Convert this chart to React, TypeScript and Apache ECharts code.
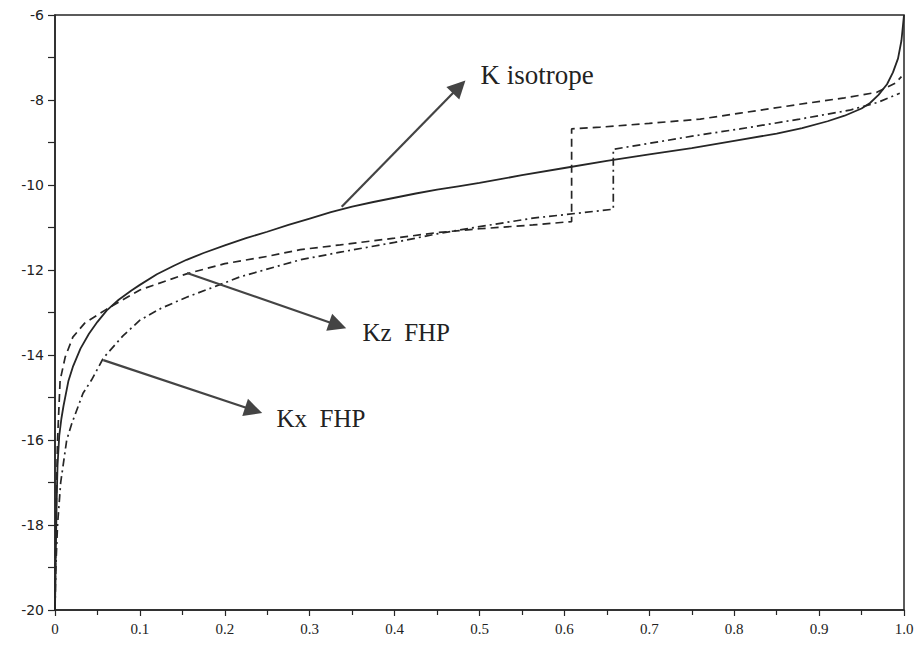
import React, { useEffect, useRef } from "react";
import * as echarts from "echarts";

// K isotrope (solid)
const isoX = [0, 0.001, 0.002, 0.003, 0.005, 0.0075, 0.01, 0.0157, 0.021, 0.03, 0.04, 0.05, 0.061, 0.075, 0.09, 0.1, 0.12, 0.14, 0.155, 0.175, 0.2, 0.225, 0.25, 0.275, 0.3, 0.325, 0.35, 0.375, 0.4, 0.425, 0.45, 0.475, 0.5, 0.55, 0.6, 0.65, 0.7, 0.75, 0.8, 0.85, 0.88, 0.91, 0.93, 0.95, 0.96, 0.97, 0.98, 0.987, 0.993, 0.997, 1.0];
const isoY = [-20, -18.6, -17.4, -16.6, -15.9, -15.5, -15.2, -14.62, -14.28, -13.85, -13.5, -13.22, -12.95, -12.7, -12.48, -12.35, -12.1, -11.9, -11.76, -11.6, -11.42, -11.25, -11.1, -10.94, -10.79, -10.64, -10.51, -10.4, -10.3, -10.2, -10.11, -10.03, -9.95, -9.77, -9.6, -9.43, -9.28, -9.13, -8.96, -8.79, -8.66, -8.5, -8.37, -8.2, -8.07, -7.88, -7.63, -7.35, -7.02, -6.6, -6.0];

// Kz FHP (dashed)
const kzX = [0, 0.001, 0.002, 0.003, 0.006, 0.012, 0.021, 0.035, 0.061, 0.1, 0.155, 0.2, 0.25, 0.289, 0.336, 0.4, 0.45, 0.5, 0.563, 0.6085, 0.6085, 0.642, 0.7, 0.76, 0.807, 0.877, 0.93, 0.968, 0.99, 0.997];
const kzY = [-20, -18, -17, -16, -14.6, -14.05, -13.58, -13.25, -12.92, -12.47, -12.09, -11.85, -11.68, -11.52, -11.41, -11.25, -11.12, -11.03, -10.94, -10.86, -8.68, -8.64, -8.55, -8.45, -8.31, -8.1, -7.95, -7.82, -7.6, -7.45];

// Kx FHP (dash-dot)
const kxX = [0, 0.001, 0.003, 0.0067, 0.0138, 0.02, 0.033, 0.043, 0.057, 0.08, 0.1, 0.125, 0.155, 0.187, 0.218, 0.289, 0.336, 0.4, 0.45, 0.5, 0.563, 0.6576, 0.6576, 0.7, 0.76, 0.807, 0.877, 0.936, 0.97, 0.995];
const kxY = [-20, -19, -18, -17, -16, -15.6, -14.9, -14.59, -14.07, -13.55, -13.18, -12.9, -12.64, -12.4, -12.16, -11.76, -11.58, -11.35, -11.15, -10.98, -10.78, -10.57, -9.16, -9.02, -8.82, -8.68, -8.45, -8.24, -8.05, -7.84];

// annotations
const annLabels = ["K isotrope", "Kz  FHP", "Kx  FHP"];
const annSizes = [27, 25, 25];
const annText = [[0.5006, -7.41], [0.3616, -13.48], [0.2603, -15.5]];
const annTail = [[0.3377, -10.51], [0.1555, -12.07], [0.0569, -14.12]];
const annTip = [[0.476, -7.69], [0.333, -13.3], [0.234, -15.3]];

const zip = (xs: number[], ys: number[]) => xs.map((x, i) => [x, ys[i]]);

const SERIF = "'Liberation Serif', 'Times New Roman', Times, 'DejaVu Serif', serif";

export default function App() {
  const ref = useRef<HTMLDivElement>(null);
  useEffect(() => {
    document.body.style.margin = "0";
    const chart = echarts.init(ref.current!, null, { renderer: "svg" });
    const ink = "#262626";
    chart.setOption({
      animation: false,
      backgroundColor: "#ffffff",
      grid: { left: 55, right: 14, top: 15, bottom: 46, show: true, borderColor: ink, borderWidth: 1.5, backgroundColor: "transparent" },
      xAxis: {
        type: "value",
        min: 0,
        max: 1,
        interval: 0.1,
        axisLine: { show: true, lineStyle: { color: ink, width: 1.5 } },
        axisTick: { show: true, length: 6, lineStyle: { color: ink, width: 1.2 } },
        minorTick: { show: true, splitNumber: 2, length: 5, lineStyle: { color: ink, width: 1.2 } },
        splitLine: { show: false },
        axisLabel: {
          color: "#222",
          fontFamily: SERIF,
          fontSize: 15,
          margin: 11,
          formatter: (v: number) => (v === 1 ? "1.0" : String(+v.toFixed(1))),
        },
      },
      yAxis: {
        type: "value",
        min: -20,
        max: -6,
        interval: 2,
        axisLine: { show: true, lineStyle: { color: ink, width: 1.5 } },
        axisTick: { show: true, length: 7, lineStyle: { color: ink, width: 1.2 } },
        minorTick: { show: true, splitNumber: 2, length: 7, lineStyle: { color: ink, width: 1.2 } },
        splitLine: { show: false },
        axisLabel: { color: "#222", fontFamily: "'DejaVu Sans', Verdana, sans-serif", fontSize: 14, margin: 11 },
      },
      series: [
        {
          name: "K isotrope",
          type: "line",
          data: zip(isoX, isoY),
          showSymbol: false,
          lineStyle: { color: ink, width: 1.8, type: "solid" },
        },
        {
          name: "Kz FHP",
          type: "line",
          data: zip(kzX, kzY),
          showSymbol: false,
          lineStyle: { color: ink, width: 1.7, type: [8, 5] },
        },
        {
          name: "Kx FHP",
          type: "line",
          data: zip(kxX, kxY),
          showSymbol: false,
          lineStyle: { color: ink, width: 1.7, type: [8, 4, 2, 4] },
        },
        {
          name: "annotations",
          type: "line",
          data: [],
          markLine: {
            silent: true,
            symbol: ["none", "triangle"],
            symbolSize: 18,
            label: { show: false },
            lineStyle: { color: "#444", width: 2.2, type: "solid" },
            data: annTail.map((t, i) => [{ coord: t }, { coord: annTip[i] }]),
          },
          markPoint: {
            silent: true,
            symbol: "circle",
            symbolSize: 1,
            itemStyle: { color: "rgba(0,0,0,0)" },
            data: annText.map((c, i) => ({
              coord: c,
              label: {
                show: true,
                position: "right",
                distance: 0,
                formatter: annLabels[i],
                color: "#222",
                fontFamily: SERIF,
                fontSize: annSizes[i],
              },
            })),
          },
        },
      ],
    });
    return () => chart.dispose();
  }, []);
  return <div ref={ref} style={{ width: 918, height: 656 }} />;
}
